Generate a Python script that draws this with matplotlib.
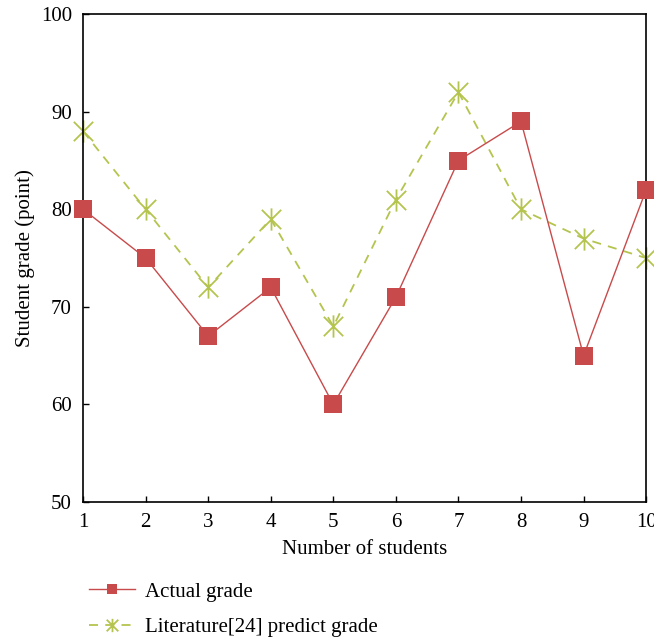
import matplotlib.pyplot as plt
from matplotlib.path import Path

students = [1, 2, 3, 4, 5, 6, 7, 8, 9, 10]
actual = [80, 75, 67, 72, 60, 71, 85, 89, 65, 82]
literature = [88, 80, 72, 79, 68, 81, 92, 80, 77, 75]

plt.rcParams['font.family'] = ['Liberation Serif', 'DejaVu Serif']
plt.rcParams['font.size'] = 15

# asterisk marker: an x with a vertical bar through it
star = Path([(-1, -1), (1, 1), (-1, 1), (1, -1), (0, -1.15), (0, 1.15)],
            [Path.MOVETO, Path.LINETO, Path.MOVETO, Path.LINETO, Path.MOVETO, Path.LINETO])

fig = plt.figure(figsize=(6.54, 6.42), dpi=100)
ax = fig.add_axes([0.127, 0.218, 0.861, 0.760])

ax.plot(students, actual, color='#C84A4B', lw=1.0, marker='s', markersize=13,
        markeredgewidth=0, label='Actual grade', clip_on=False, zorder=3)
ax.plot(students, literature, color='#B5C44E', lw=1.3, ls=(0, (5, 4)),
        marker=star, markersize=16, markeredgewidth=1.3,
        label='Literature[24] predict grade', clip_on=False, zorder=2)

ax.set_xlim(1, 10)
ax.set_ylim(50, 100)
ax.set_xticks(students)
ax.set_yticks(range(50, 101, 10))
ax.tick_params(direction='in', length=4, width=1, top=False, right=False, pad=8)
for s in ax.spines.values():
    s.set_linewidth(1.2)
ax.set_xlabel('Number of students', labelpad=6)
ax.set_ylabel('Student grade (point)', labelpad=4)

fig.legend(loc='lower left', bbox_to_anchor=(0.108, -0.022), frameon=False,
           handlelength=2.2, handletextpad=0.45, labelspacing=0.78, markerscale=0.6)

fig.savefig('out.png', dpi=100)
